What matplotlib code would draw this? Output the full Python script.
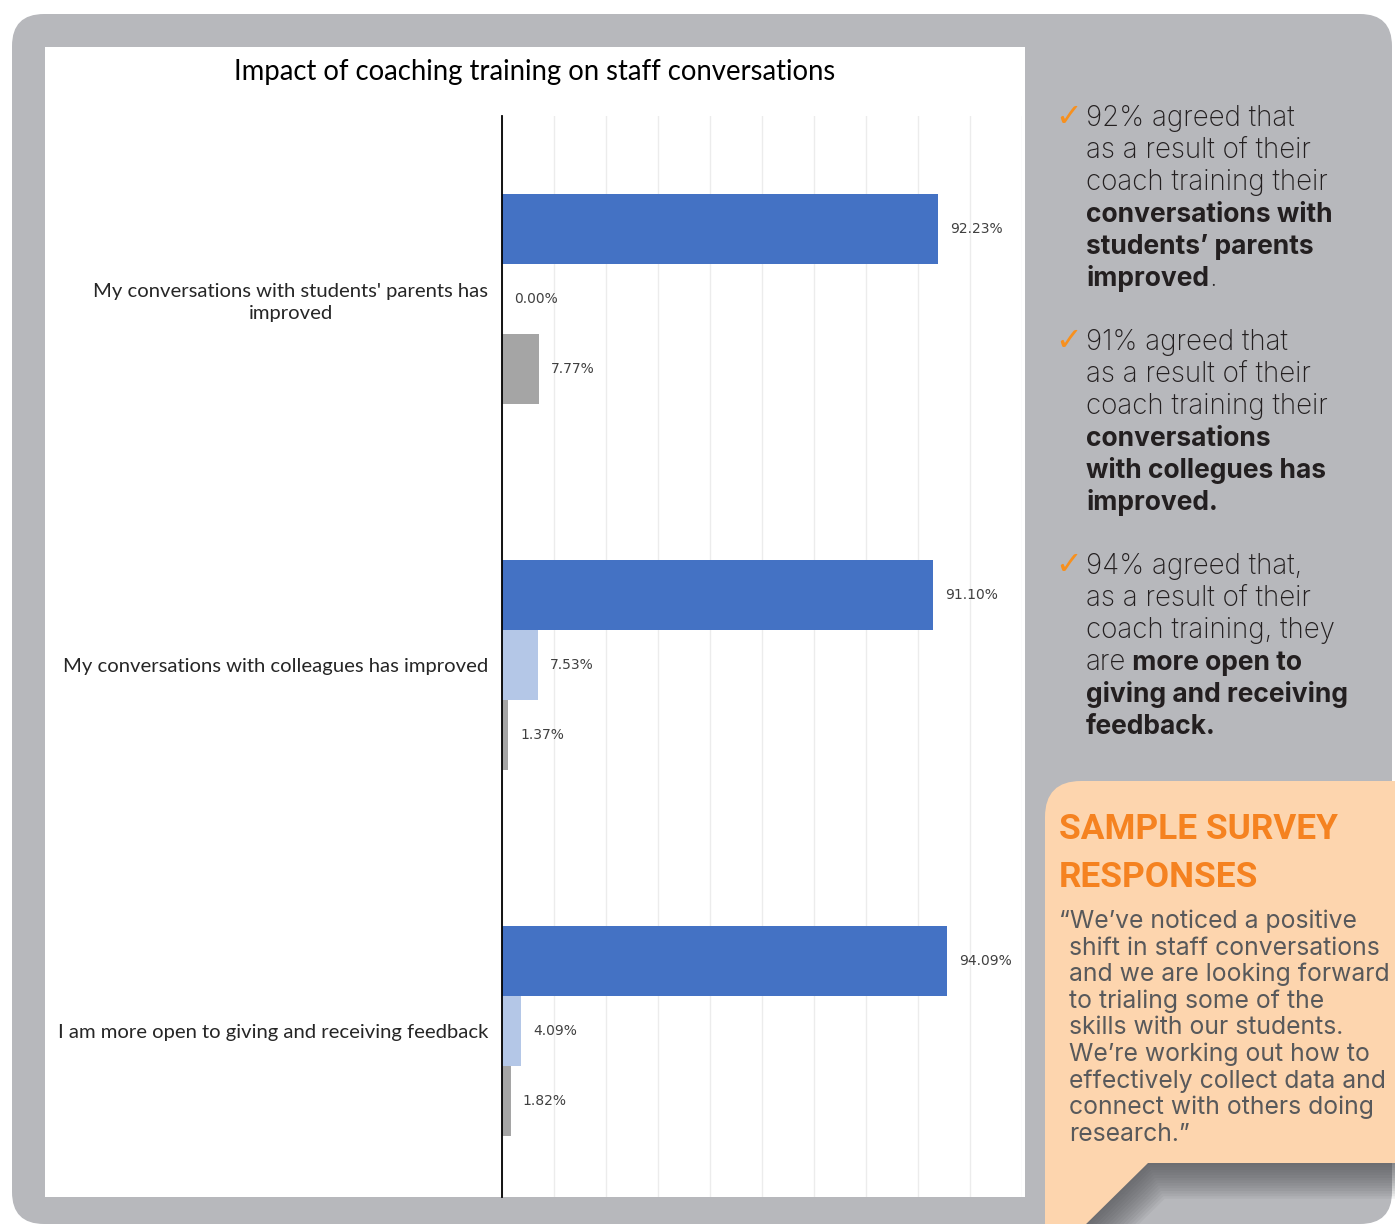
import matplotlib
matplotlib.use("Agg")
import matplotlib.pyplot as plt
from matplotlib.patches import FancyBboxPatch, Rectangle, Polygon
import numpy as np

categories = ["My conversations with students' parents has\nimproved",
              "My conversations with colleagues has improved",
              "I am more open to giving and receiving feedback"]
agree = [92.23, 91.10, 94.09]
neutral = [0.00, 7.53, 4.09]
disagree = [7.77, 1.37, 1.82]

title = "Impact of coaching training on staff conversations"

# side notes: each line is a list of (text, weight) pieces
notes = [
    [[("92% agreed that", "light")],
     [("as a result of their", "light")],
     [("coach training their", "light")],
     [("conversations with", "bold")],
     [("students\u2019 parents", "bold")],
     [("improved", "bold"), (".", "light")]],
    [[("91% agreed that", "light")],
     [("as a result of their", "light")],
     [("coach training their", "light")],
     [("conversations", "bold")],
     [("with collegues has", "bold")],
     [("improved.", "bold")]],
    [[("94% agreed that,", "light")],
     [("as a result of their", "light")],
     [("coach training, they", "light")],
     [("are", "light"), (" more open to", "bold")],
     [("giving and receiving", "bold")],
     [("feedback.", "bold")]],
]

quote = ["\u201cWe\u2019ve noticed a positive",
         "shift in staff conversations",
         "and we are looking forward",
         "to trialing some of the",
         "skills with our students.",
         "We\u2019re working out how to",
         "effectively collect data and",
         "connect with others doing",
         "research.\u201d"]

W, H = 1395, 1224
fig = plt.figure(figsize=(W / 100, H / 100), dpi=100)
fig.patch.set_facecolor("white")

# full-figure layer in pixel units for the frame, panel and side text
bg = fig.add_axes([0, 0, 1, 1])
bg.set_xlim(0, W)
bg.set_ylim(H, 0)
bg.axis("off")

grey = "#b7b8bc"
bg.add_patch(FancyBboxPatch((12, 14), W - 12 - 3, H - 14, boxstyle="round,pad=0,rounding_size=32",
                            fc=grey, ec="none"))
bg.add_patch(Rectangle((45, 47), 980, 1150, fc="white", ec="none"))

# bar chart
chart_left, chart_right = 502, 1022
chart_top, chart_bottom = 116, 1197
ax = fig.add_axes([chart_left / W, 1 - chart_bottom / H,
                   (chart_right - chart_left) / W, (chart_bottom - chart_top) / H])
ax.set_facecolor("none")

y = np.arange(len(categories))
h = 0.191
series = [(agree, "#4472c4", -h), (neutral, "#b4c7e7", 0), (disagree, "#a5a5a5", h)]
for vals, col, off in series:
    ax.barh(y + off, vals, height=h, color=col, edgecolor="none", zorder=2)
    for yi, v in zip(y, vals):
        ax.annotate(f"{v:.2f}%", (v, yi + off), xytext=(12, 0), textcoords="offset pixels",
                    ha="left", va="center", fontsize=10, color="#404040",
                    family="DejaVu Sans")

ax.set_xlim(0, 110)
ax.set_ylim(2.454, -0.5)
ax.set_xticks(np.arange(0, 111, 11))
ax.xaxis.grid(True, color="#ececec", lw=1, zorder=0)
ax.tick_params(axis="x", length=0, labelbottom=False)
ax.set_yticks(y)
ax.set_yticklabels(categories, fontsize=14.6, family="Lato", color="#262626")
for lab in ax.get_yticklabels():
    lab.set_multialignment("center")
    lab.set_linespacing(1.35)
ax.tick_params(axis="y", length=0, pad=10)
for s in ["top", "right", "bottom"]:
    ax.spines[s].set_visible(False)
ax.spines["left"].set_color("black")
ax.spines["left"].set_linewidth(1.3)

bg.text(535, 72, title, ha="center", va="center", fontsize=19.8, family="Lato", color="black")

# side notes
orange = "#f7901e"
tx = 1086
sizes = {"light": 20, "bold": 19}
for b, block in enumerate(notes):
    y0 = 126 + 224 * b
    bg.text(1055, y0, "\u2713", ha="left", va="baseline", fontsize=23, color=orange,
            family="DejaVu Sans")
    for i, line in enumerate(block):
        yb = y0 + 32 * i
        prev = None
        for txt, wt in line:
            if prev is None:
                prev = bg.text(tx, yb, txt, ha="left", va="baseline", fontsize=sizes[wt],
                               family="Inter", fontweight=wt, color="#231f20")
            else:
                prev = bg.annotate(txt, xy=(1, yb), xycoords=(prev, bg.transData),
                                   ha="left", va="baseline", fontsize=sizes[wt],
                                   family="Inter", fontweight=wt, color="#231f20")

# callout with tail and soft shadow
peach = "#fdd5ae"
box_x, box_y, box_w, box_h = 1045, 781, 400, 382
tail = [(1045, 1163), (1148, 1163), (1080, 1230), (1045, 1230)]
for k in range(14):
    dy = 2 + k * 2.6
    dx = 1 + k * 1.2
    bg.add_patch(FancyBboxPatch((box_x + dx, box_y + dy), box_w, box_h,
                                boxstyle="round,pad=0,rounding_size=30",
                                fc="#4a4b4f", ec="none", alpha=0.07))
    bg.add_patch(Polygon([(px + dx, py + dy) for px, py in tail], closed=True,
                         fc="#4a4b4f", ec="none", alpha=0.07))
bg.add_patch(FancyBboxPatch((box_x, box_y), box_w, box_h, boxstyle="round,pad=0,rounding_size=36",
                            fc=peach, ec="none"))
# square off the lower-left corner where the tail joins
bg.add_patch(Polygon([(1045, 1100), (1200, 1100), (1200, 1163)] + tail[1:] + [(1045, 1163)],
                     closed=True, fc=peach, ec="none"))

bg.text(1059, 839, "SAMPLE SURVEY", ha="left", va="baseline", fontsize=25.4,
        family="Roboto", fontweight="bold", color="#f58220")
bg.text(1059, 887, "RESPONSES", ha="left", va="baseline", fontsize=25.4,
        family="Roboto", fontweight="bold", color="#f58220")
for i, line in enumerate(quote):
    bg.text(1059 if i == 0 else 1069, 928 + 26.6 * i, line, ha="left", va="baseline",
            fontsize=17.8, family="Inter", color="#58595b")

fig.savefig("out.png", dpi=100)
